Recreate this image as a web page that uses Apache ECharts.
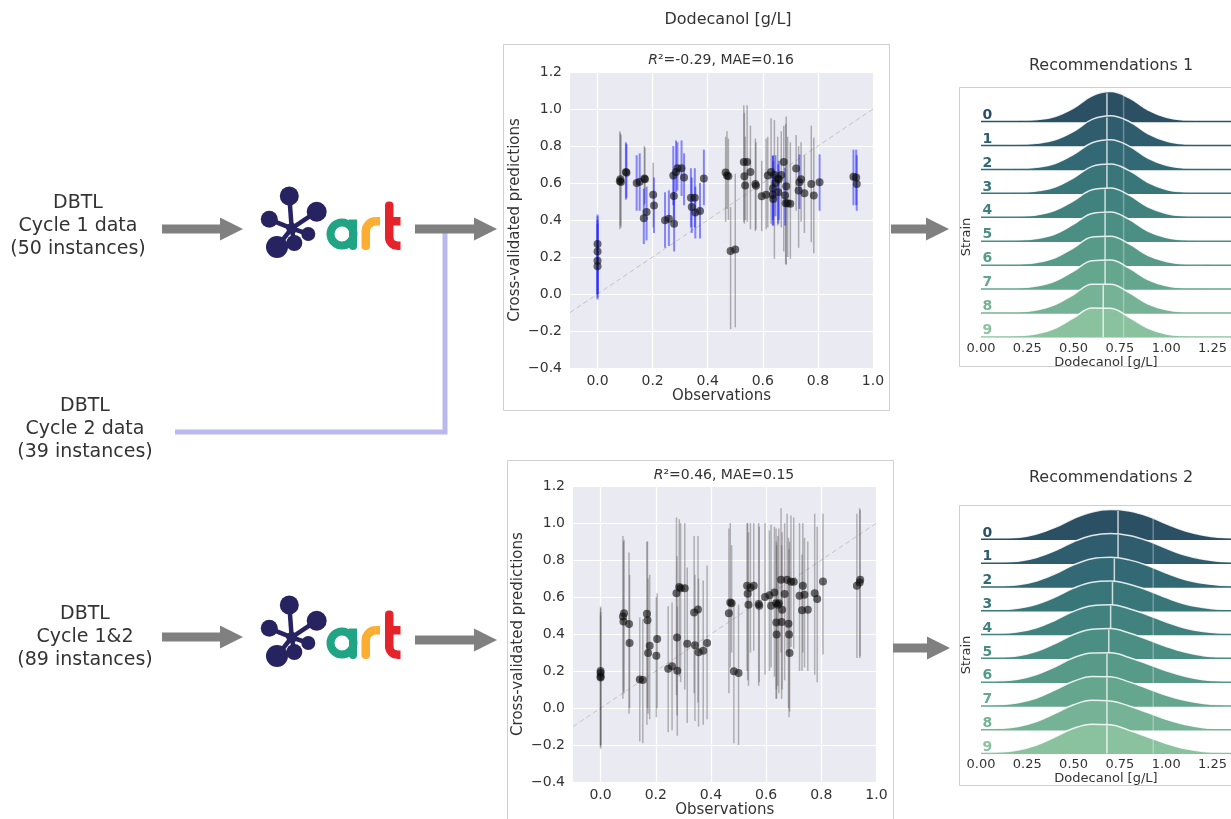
<!DOCTYPE html>
<html>
<head>
<meta charset="utf-8">
<title>ART: cross-validated predictions and recommendations</title>
<script src="https://cdn.jsdelivr.net/npm/echarts@6/dist/echarts.min.js"></script>
<style>
  html, body { margin: 0; padding: 0; background: #fff; }
  #chart { width: 1231px; height: 819px; }
</style>
</head>
<body>
<div id="chart"></div>
<script>
// ---- scatter panels: observed dodecanol (same instances in both panels) ----
const obs = [0, 0, 0, 0, 0.081, 0.085, 0.083, 0.103, 0.105, 0.142, 0.153, 0.168, 0.178, 0.17, 0.172,
  0.202, 0.205, 0.245, 0.259, 0.275, 0.277, 0.278, 0.285, 0.29, 0.305, 0.314, 0.339, 0.342, 0.353,
  0.355, 0.372, 0.386, 0.465, 0.47, 0.475, 0.483, 0.50, 0.531, 0.533, 0.536, 0.543, 0.555, 0.573,
  0.575, 0.596, 0.612, 0.618, 0.63, 0.636, 0.637, 0.638, 0.642, 0.646, 0.654, 0.656, 0.658, 0.667,
  0.676, 0.681, 0.683, 0.685, 0.69, 0.70, 0.721, 0.73, 0.733, 0.739, 0.751, 0.776, 0.785, 0.806,
  0.929, 0.939, 0.941];

// model trained on cycle 1 (top panel)
const pred1 = [0.27, 0.23, 0.18, 0.15, 0.61, 0.605, 0.62, 0.66, 0.655, 0.60, 0.607, 0.41, 0.443, 0.625, 0.62,
  0.537, 0.479, 0.398, 0.407, 0.64, 0.53, 0.38, 0.66, 0.68, 0.68, 0.63, 0.52, 0.47, 0.52,
  0.44, 0.448, 0.625, 0.657, 0.64, 0.636, 0.232, 0.24, 0.714, 0.636, 0.586, 0.714, 0.66, 0.595,
  0.585, 0.528, 0.536, 0.64, 0.66, 0.536, 0.571, 0.514, 0.643, 0.60, 0.625, 0.55, 0.62, 0.643,
  0.714, 0.532, 0.49, 0.582, 0.49, 0.4875, 0.679, 0.559, 0.604, 0.62, 0.545, 0.595, 0.532, 0.604,
  0.634, 0.63, 0.595];
const lo1 = [-0.03, 0.0, -0.02, 0.0, 0.35, 0.36, 0.37, 0.51, 0.52, 0.45, 0.45, 0.27, 0.29, 0.48, 0.49,
  0.36, 0.33, 0.25, 0.26, 0.48, 0.40, 0.23, 0.55, 0.56, 0.53, 0.48, 0.36, 0.33, 0.36,
  0.30, 0.30, 0.48, 0.39, 0.46, 0.40, -0.19, -0.18, 0.39, 0.38, 0.40, 0.39, 0.35, 0.34,
  0.35, 0.34, 0.35, 0.36, 0.38, 0.37, 0.40, 0.37, 0.19, 0.42, 0.37, 0.38, 0.40, 0.36,
  0.23, 0.37, 0.16, 0.16, 0.20, 0.19, 0.45, 0.25, 0.46, 0.39, 0.33, 0.28, 0.22, 0.45,
  0.48, 0.48, 0.45];
const hi1 = [0.43, 0.42, 0.40, 0.38, 0.88, 0.86, 0.87, 0.82, 0.81, 0.75, 0.76, 0.57, 0.58, 0.80, 0.79,
  0.71, 0.63, 0.55, 0.56, 0.80, 0.65, 0.55, 0.83, 0.82, 0.83, 0.76, 0.68, 0.63, 0.68,
  0.58, 0.60, 0.78, 0.85, 0.88, 0.84, 0.47, 0.65, 1.02, 0.98, 0.85, 1.02, 0.91, 0.84,
  0.82, 0.72, 0.84, 0.85, 0.95, 0.746, 0.75, 0.72, 0.94, 0.75, 0.85, 0.70, 0.72, 0.88,
  0.91, 0.68, 0.92, 0.96, 0.85, 0.82, 0.86, 0.80, 0.755, 0.82, 0.75, 0.91, 0.845, 0.755,
  0.78, 0.78, 0.75];
// 1 = cycle 1 instance (blue bar), 0 = cycle 2 instance (grey bar)
const inCycle1 = [1, 1, 1, 1, 0, 0, 0, 1, 1, 1, 1, 1, 1, 0, 0,
  0, 1, 1, 1, 1, 1, 1, 1, 1, 1, 1, 1, 1, 1,
  1, 1, 1, 0, 0, 0, 0, 0, 0, 0, 0, 0, 0, 0,
  0, 0, 0, 0, 0, 1, 1, 1, 0, 1, 0, 1, 1, 0,
  0, 1, 0, 0, 0, 0, 0, 0, 1, 0, 0, 0, 0, 1,
  1, 1, 1];

// model trained on cycles 1&2 (bottom panel)
const pred2 = [0.20, 0.19, 0.17, 0.165, 0.495, 0.513, 0.468, 0.454, 0.351, 0.154, 0.152, 0.51, 0.337, 0.474, 0.298,
  0.283, 0.373, 0.213, 0.226, 0.621, 0.382, 0.202, 0.654, 0.648, 0.648, 0.348, 0.517, 0.339, 0.532,
  0.301, 0.31, 0.351, 0.513, 0.571, 0.567, 0.199, 0.19, 0.661, 0.618, 0.558, 0.65, 0.661, 0.562,
  0.553, 0.60, 0.609, 0.553, 0.625, 0.567, 0.463, 0.397, 0.558, 0.567, 0.693, 0.465, 0.531, 0.616,
  0.693, 0.456, 0.397, 0.298, 0.683, 0.683, 0.607, 0.528, 0.661, 0.612, 0.531, 0.621, 0.589, 0.684,
  0.661, 0.679, 0.694];
const lo2 = [-0.21, -0.20, -0.22, -0.20, 0.05, 0.08, 0.09, -0.03, 0.0, -0.18, -0.19, -0.09, -0.06, 0.0, -0.03,
  -0.05, 0.0, -0.13, -0.12, 0.07, -0.04, -0.15, 0.17, 0.14, 0.10, -0.08, 0.08, -0.07, 0.03,
  -0.10, -0.09, -0.06, 0.08, 0.22, 0.30, -0.19, -0.20, 0.20, 0.15, 0.12, 0.30, 0.31, 0.12,
  0.14, 0.18, 0.20, 0.22, 0.17, 0.05, 0.10, 0.05, 0.12, 0.08, 0.30, 0.05, 0.10, 0.15,
  0.30, 0.0, -0.05, -0.02, 0.33, 0.32, 0.20, 0.20, 0.30, 0.22, 0.20, 0.18, 0.14, 0.29,
  0.27, 0.27, 0.28];
const hi2 = [0.55, 0.54, 0.50, 0.52, 0.93, 0.91, 0.90, 0.84, 0.72, 0.49, 0.48, 0.90, 0.72, 0.90, 0.70,
  0.60, 0.62, 0.55, 0.57, 1.03, 0.82, 0.55, 1.02, 1.00, 1.00, 0.76, 0.93, 0.72, 0.93,
  0.70, 0.69, 0.77, 0.97, 1.00, 0.88, 0.57, 0.56, 1.00, 1.00, 0.95, 1.00, 1.00, 1.00,
  0.98, 1.00, 0.96, 0.99, 0.98, 0.97, 0.90, 0.88, 0.93, 0.97, 1.08, 0.88, 0.95, 1.00,
  1.05, 0.92, 0.86, 0.90, 1.04, 1.03, 1.00, 0.83, 1.00, 0.92, 0.90, 1.05, 0.98, 1.05,
  1.05, 1.08, 1.07];

const obsTicks = [0, 0.2, 0.4, 0.6, 0.8, 1.0];
const diagEnds = [-0.1, 1.0];
const titles = ['=-0.29, MAE=0.16', '=0.46, MAE=0.15'];

// ---- recommendation ridges: predicted dodecanol density per strain ----
const strains = ['0', '1', '2', '3', '4', '5', '6', '7', '8', '9'];
const densX = [0, 0.1, 0.2, 0.3, 0.4, 0.5, 0.6, 0.7, 0.8, 0.9, 1.0, 1.1, 1.2, 1.3, 1.4];
const dens1 = [
  [0, 0, .02, .06, .17, .45, .86, 1.0, .79, .39, .14, .04, .01, 0, 0],
  [0, 0, .02, .07, .19, .47, .87, .99, .80, .40, .15, .04, .01, 0, 0],
  [0, .01, .02, .07, .20, .50, .89, .99, .78, .38, .14, .04, .01, 0, 0],
  [0, .01, .02, .08, .21, .52, .90, .98, .76, .37, .13, .04, .01, 0, 0],
  [0, .01, .03, .08, .23, .55, .92, .98, .74, .35, .13, .04, .01, 0, 0],
  [0, .01, .03, .09, .24, .57, .93, .98, .73, .34, .12, .04, .01, 0, 0],
  [0, .01, .03, .09, .25, .58, .94, .97, .71, .33, .12, .03, .01, 0, 0],
  [0, .01, .03, .10, .27, .60, .95, .97, .70, .32, .11, .03, .01, 0, 0],
  [0, .01, .03, .10, .28, .62, .96, .96, .68, .31, .11, .03, .01, 0, 0],
  [0, .01, .04, .11, .29, .64, .97, .96, .66, .30, .10, .03, .01, 0, 0]
];
const median1 = [0.68, 0.68, 0.68, 0.68, 0.67, 0.67, 0.67, 0.67, 0.66, 0.66];
const refLine1 = 0.77;
const dens2 = [
  [0, .02, .06, .18, .40, .70, .92, 1.0, .95, .78, .52, .29, .14, .06, .02],
  [0, .02, .06, .19, .42, .72, .93, 1.0, .93, .75, .50, .27, .13, .05, .02],
  [0, .02, .07, .20, .44, .74, .95, 1.0, .91, .72, .47, .25, .12, .05, .02],
  [.01, .03, .08, .22, .46, .76, .96, 1.0, .89, .69, .44, .23, .11, .04, .01],
  [.01, .03, .09, .23, .48, .78, .97, 1.0, .87, .66, .42, .22, .10, .04, .01],
  [.01, .03, .09, .24, .50, .80, .98, 1.0, .85, .63, .40, .21, .09, .03, .01],
  [.01, .04, .10, .26, .52, .82, .98, .99, .83, .61, .38, .20, .08, .03, .01],
  [.01, .04, .11, .27, .54, .83, .99, .98, .81, .59, .36, .19, .08, .03, .01],
  [.01, .04, .11, .28, .55, .84, .99, .97, .80, .58, .35, .18, .07, .02, .01],
  [.01, .05, .12, .29, .56, .85, .99, .97, .78, .56, .34, .17, .07, .02, .01]
];
const median2 = [0.74, 0.74, 0.72, 0.71, 0.70, 0.69, 0.68, 0.68, 0.68, 0.68];
const refLine2 = 0.93;
const ridgeTicks = 0.25;

// ---- styling ----
const FONT = 'DejaVu Sans';
const INK = '#333';
const ridgeColors = ['#2b5064', '#2f5d6e', '#336975', '#39767a', '#41827e',
  '#4b8e83', '#579a88', '#65a68e', '#76b295', '#8ac29f'];
const OVERLAP = 1.25;   // ridge peak height in row spacings
const RIDGE_MAX_X = 1.35;
const RIDGE_MAX_Y = 10.4;

const fmt1 = v => (v < 0 ? '\u2212' : '') + Math.abs(v).toFixed(1);

function errorBars(gi, idx, lo, hi, color, width) {
  return {
    type: 'custom', xAxisIndex: gi, yAxisIndex: gi, z: 3, silent: true,
    data: idx.map(i => [obs[i], lo[i], hi[i]]),
    encode: { x: 0, y: [1, 2] },
    renderItem(params, api) {
      const a = api.coord([api.value(0), api.value(1)]);
      const b = api.coord([api.value(0), api.value(2)]);
      return { type: 'line', shape: { x1: a[0], y1: a[1], x2: b[0], y2: b[1] },
        style: { stroke: color, lineWidth: width } };
    }
  };
}

function scatterAxes(gi) {
  const x = {
    gridIndex: gi, type: 'value', min: -0.1, max: 1.0,
    axisLine: { show: false }, axisTick: { show: false, customValues: obsTicks },
    axisLabel: { customValues: obsTicks, formatter: fmt1, color: INK, fontSize: 14, fontFamily: FONT, margin: 6 },
    splitLine: { show: true, lineStyle: { color: '#fff', width: 1.2 } },
    name: 'Observations', nameLocation: 'middle', nameGap: 21,
    nameTextStyle: { color: INK, fontSize: 15, fontFamily: FONT }
  };
  const y = {
    gridIndex: gi, type: 'value', min: -0.4, max: 1.2, interval: 0.2,
    axisLine: { show: false }, axisTick: { show: false },
    axisLabel: { formatter: fmt1, color: INK, fontSize: 14, fontFamily: FONT, margin: 8 },
    splitLine: { show: true, lineStyle: { color: '#fff', width: 1.2 } },
    name: 'Cross-validated predictions', nameLocation: 'middle', nameGap: 47,
    nameTextStyle: { color: INK, fontSize: 15, fontFamily: FONT }
  };
  return [x, y];
}

function ridgeAxes(gi) {
  const x = {
    gridIndex: gi, type: 'value', min: 0, max: RIDGE_MAX_X, interval: ridgeTicks,
    axisLine: { show: false }, axisTick: { show: false }, splitLine: { show: false },
    axisLabel: { formatter: v => v.toFixed(2), color: INK, fontSize: 13, fontFamily: FONT, margin: 5 },
    name: 'Dodecanol [g/L]', nameLocation: 'middle', nameGap: 17,
    nameTextStyle: { color: INK, fontSize: 13, fontFamily: FONT }
  };
  const y = { gridIndex: gi, type: 'value', min: 0, max: RIDGE_MAX_Y, show: false, splitLine: { show: false } };
  return [x, y];
}

function interp(row, x) {
  for (let j = 0; j < densX.length - 1; j++) {
    if (x >= densX[j] && x <= densX[j + 1]) {
      const t = (x - densX[j]) / (densX[j + 1] - densX[j]);
      return row[j] + t * (row[j + 1] - row[j]);
    }
  }
  return 0;
}

function ridgeSeries(gi, dens, medians, ref) {
  const out = [];
  const n = strains.length;
  dens.forEach((row, i) => {
    const base = n - 1 - i;
    const z = 3 + i;
    const common = { xAxisIndex: gi, yAxisIndex: gi, symbol: 'none', silent: true, z };
    out.push(Object.assign({
      type: 'line', smooth: 0.4,
      data: densX.map((x, j) => [x, base + row[j] * OVERLAP]),
      lineStyle: { color: 'rgba(255,255,255,0.85)', width: 1.5 },
      areaStyle: { color: ridgeColors[i], opacity: 1, origin: base }
    }, common));
    out.push(Object.assign({
      type: 'line', data: [[0, base], [RIDGE_MAX_X, base]],
      lineStyle: { color: ridgeColors[i], width: 1.5 }
    }, common));
    const m = medians[i];
    out.push(Object.assign({
      type: 'line', data: [[m, base], [m, base + interp(row, m) * OVERLAP * 0.97]],
      lineStyle: { color: 'rgba(255,255,255,0.75)', width: 1.5 }
    }, common));
  });
  out.push({
    type: 'line', xAxisIndex: gi, yAxisIndex: gi, symbol: 'none', silent: true, z: 30,
    data: [[ref, 0], [ref, n - 1 + OVERLAP * 0.9]],
    lineStyle: { color: 'rgba(255,255,255,0.3)', width: 1.5 }
  });
  out.push({
    type: 'scatter', xAxisIndex: gi, yAxisIndex: gi, silent: true, z: 31,
    symbolSize: 1, itemStyle: { color: 'rgba(0,0,0,0)' },
    data: strains.map((s, i) => ({ value: [0, n - 1 - i + 0.27], name: s,
      label: { color: ridgeColors[i], opacity: 1 } })),
    label: { show: true, position: 'right', distance: 1, formatter: '{b}',
      fontWeight: 'bold', fontSize: 14, fontFamily: FONT }
  });
  return out;
}

// ---- diagram pieces ----
function arrow(x1, x2, y) {
  const hl = 23, hw = 11.5, sw = 4.5;
  return { type: 'polygon', silent: true,
    shape: { points: [[x1, y - sw], [x2 - hl, y - sw], [x2 - hl, y - hw], [x2, y],
      [x2 - hl, y + hw], [x2 - hl, y + sw], [x1, y + sw]] },
    style: { fill: '#808080' } };
}

function artLogo(dy) {
  const navy = '#272361', teal = '#20A484', orange = '#FBAE32', red = '#E4232B';
  const hub = [291.7, 228.3];
  const nodes = [[289.3, 196, 9.5], [316.7, 211.7, 10], [269.3, 219.3, 8.5],
    [308.3, 234, 7], [277, 247, 11], [294.3, 243, 8]];
  const c = [];
  nodes.forEach(p => c.push({ type: 'line', shape: { x1: hub[0], y1: hub[1], x2: p[0], y2: p[1] },
    style: { stroke: navy, lineWidth: 4.5 } }));
  nodes.forEach(p => c.push({ type: 'circle', shape: { cx: p[0], cy: p[1], r: p[2] }, style: { fill: navy } }));
  c.push({ type: 'circle', shape: { cx: hub[0], cy: hub[1], r: 5.5 }, style: { fill: navy } });
  // a
  c.push({ type: 'circle', shape: { cx: 342, cy: 234, r: 11.5 }, style: { fill: 'none', stroke: teal, lineWidth: 8 } });
  c.push({ type: 'rect', shape: { x: 349, y: 219.5, width: 8, height: 30.5, r: [0, 0, 4, 4] }, style: { fill: teal } });
  // r
  c.push({ type: 'rect', shape: { x: 361.5, y: 231, width: 8.5, height: 19, r: [0, 0, 4, 4] }, style: { fill: orange } });
  c.push({ type: 'arc', shape: { cx: 375.75, cy: 231.25, r: 10, startAngle: Math.PI, endAngle: Math.PI * 1.5, clockwise: true },
    style: { fill: 'none', stroke: orange, lineWidth: 8.5 } });
  c.push({ type: 'rect', shape: { x: 375.5, y: 217, width: 4.5, height: 8.5 }, style: { fill: orange } });
  // t
  c.push({ type: 'rect', shape: { x: 385, y: 201.5, width: 8.5, height: 37, r: [4, 4, 0, 0] }, style: { fill: red } });
  c.push({ type: 'rect', shape: { x: 390, y: 217, width: 10.5, height: 8.5 }, style: { fill: red } });
  c.push({ type: 'arc', shape: { cx: 397.25, cy: 237.5, r: 8, startAngle: Math.PI * 0.5, endAngle: Math.PI, clockwise: true },
    style: { fill: 'none', stroke: red, lineWidth: 8.5 } });
  c.push({ type: 'rect', shape: { x: 397, y: 241.5, width: 3.5, height: 8.5 }, style: { fill: red } });
  return { type: 'group', x: 0, y: dy, silent: true, children: c };
}

function label(text, x, y, size, extra) {
  return { type: 'text', x, y, silent: true,
    style: Object.assign({ text, fill: INK, font: size + 'px "' + FONT + '"', textAlign: 'center', textVerticalAlign: 'middle' }, extra || {}) };
}

function frame(x, y, w, h) {
  return { type: 'rect', silent: true, shape: { x, y, width: w, height: h },
    style: { fill: 'none', stroke: '#cfcfcf', lineWidth: 1 } };
}

function r2Title(text, x, y) {
  return { type: 'text', x, y, silent: true,
    style: { text: '{i|R}\u00b2' + text, fill: INK, font: '14px "' + FONT + '"', textAlign: 'center', textVerticalAlign: 'middle',
      rich: { i: { fontStyle: 'italic', fontSize: 14, fontFamily: FONT, fill: INK } } } };
}

const graphics = [
  frame(503.5, 44.5, 386, 366),
  frame(507.5, 460.5, 386, 370),
  frame(959.5, 87.5, 290, 279),
  frame(959.5, 505.5, 290, 280),
  label('DBTL\nCycle 1 data\n(50 instances)', 78, 226, 19, { lineHeight: 23 }),
  label('DBTL\nCycle 2 data\n(39 instances)', 85, 429, 19, { lineHeight: 23 }),
  label('DBTL\nCycle 1&2\n(89 instances)', 85, 637, 19, { lineHeight: 23 }),
  { type: 'polyline', silent: true, shape: { points: [[175, 432], [445, 432], [445, 232]] },
    style: { stroke: '#b9b9f0', lineWidth: 5, fill: 'none' } },
  arrow(162, 243, 229), arrow(415, 497, 229), arrow(891, 949, 229),
  arrow(162, 243, 637), arrow(415, 497, 640), arrow(893, 950, 648),
  artLogo(0), artLogo(409),
  label('Dodecanol [g/L]', 728, 20, 16),
  r2Title(titles[0], 721, 60),
  r2Title(titles[1], 724, 475),
  label('Recommendations 1', 1111, 66, 16),
  label('Recommendations 2', 1111, 478, 16),
  Object.assign(label('Strain', 967, 237, 13), { rotation: Math.PI / 2 }),
  Object.assign(label('Strain', 967, 655, 13), { rotation: Math.PI / 2 })
];

// ---- assemble ----
const allIdx = obs.map((_, i) => i);
const blueIdx = allIdx.filter(i => inCycle1[i] === 1);
const greyIdx = allIdx.filter(i => inCycle1[i] === 0);

const ax0 = scatterAxes(0), ax1 = scatterAxes(1), ax2 = ridgeAxes(2), ax3 = ridgeAxes(3);
ax1[0].nameGap = 20;

const dotStyle = { color: 'rgba(10,10,10,0.75)' };
const diagLine = gi => ({
  type: 'line', xAxisIndex: gi, yAxisIndex: gi, symbol: 'none', silent: true, z: 2,
  data: diagEnds.map(v => [v, v]), lineStyle: { color: '#c4c4c4', width: 1, type: [5, 3] }
});

const series = [
  diagLine(0),
  errorBars(0, greyIdx, lo1, hi1, 'rgba(90,90,90,0.45)', 1.5),
  errorBars(0, blueIdx, lo1, hi1, 'rgba(30,30,255,0.5)', 2),
  { type: 'scatter', xAxisIndex: 0, yAxisIndex: 0, z: 4, silent: true, symbolSize: 8,
    itemStyle: dotStyle, data: obs.map((x, i) => [x, pred1[i]]) },
  diagLine(1),
  errorBars(1, allIdx, lo2, hi2, 'rgba(90,90,90,0.42)', 1.5),
  { type: 'scatter', xAxisIndex: 1, yAxisIndex: 1, z: 4, silent: true, symbolSize: 8,
    itemStyle: dotStyle, data: obs.map((x, i) => [x, pred2[i]]) }
].concat(ridgeSeries(2, dens1, median1, refLine1), ridgeSeries(3, dens2, median2, refLine2));

const chart = echarts.init(document.getElementById('chart'), null, { renderer: 'canvas' });
chart.setOption({
  animation: false,
  backgroundColor: '#fff',
  textStyle: { fontFamily: FONT },
  grid: [
    { left: 570, top: 72, width: 303, height: 296, show: true, backgroundColor: '#eaeaf2', borderWidth: 0 },
    { left: 573, top: 486, width: 303.5, height: 297, show: true, backgroundColor: '#eaeaf2', borderWidth: 0 },
    { left: 981, top: 88, width: 250, height: 249 },
    { left: 981, top: 506, width: 250, height: 247.6 }
  ],
  xAxis: [ax0[0], ax1[0], ax2[0], ax3[0]],
  yAxis: [ax0[1], ax1[1], ax2[1], ax3[1]],
  series,
  graphic: graphics
});
</script>
</body>
</html>
